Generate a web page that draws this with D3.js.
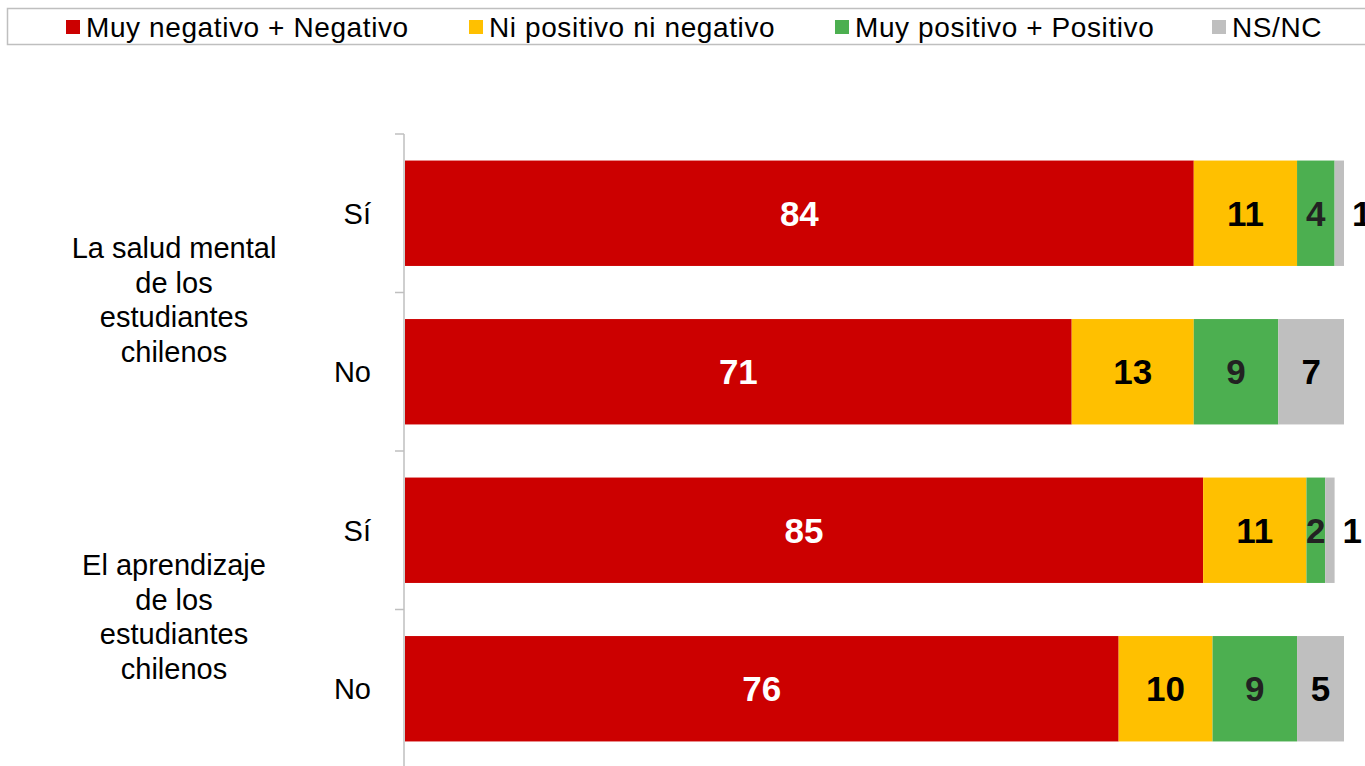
<!DOCTYPE html>
<html>
<head>
<meta charset="utf-8">
<script src="https://cdn.jsdelivr.net/npm/d3@7"></script>
<style>
  body { margin: 0; background: #fff; overflow: hidden; }
  text { font-family: "Liberation Sans", Arial, sans-serif; }
</style>
</head>
<body>
<div id="chart"></div>
<script>
// data
const seriesNames = ["Muy negativo + Negativo", "Ni positivo ni negativo", "Muy positivo + Positivo", "NS/NC"];
const seriesColors = ["#cc0000", "#ffc000", "#4caf50", "#bfbfbf"];
const labelColors = ["#fff", "#000", "#222", "#000"];
const groups = [["La salud mental", "de los", "estudiantes", "chilenos"], ["El aprendizaje", "de los", "estudiantes", "chilenos"]];
const rowLabels = ["Sí", "No", "Sí", "No"];
const negativo = [84, 71, 85, 76];
const neutral = [11, 13, 11, 10];
const positivo = [4, 9, 2, 9];
const nsnc = [1, 7, 1, 5];

const width = 1365, height = 766;
const svg = d3.select("#chart").append("svg")
  .attr("width", width)
  .attr("height", height);

// rows table
const rows = rowLabels.map((r, i) => ({ id: i, label: r, vals: [negativo[i], neutral[i], positivo[i], nsnc[i]] }));

// scales
const x = d3.scaleLinear().domain([0, 100]).range([405, 1344]);
const y = d3.scaleBand()
  .domain(rows.map(d => d.id))
  .range([134, 768])
  .paddingInner(0.335)
  .paddingOuter(0.1675);

// axis line + ticks at row boundaries
const axisG = svg.append("g");
axisG.append("line")
  .attr("x1", 404).attr("x2", 404)
  .attr("y1", 134).attr("y2", 768)
  .attr("stroke", "#bfbfbf").attr("stroke-width", 1.5);
const bounds = d3.range(rows.length + 1).map(i => 134 + i * y.step());
axisG.selectAll(".tk").data(bounds).join("line")
  .attr("x1", 395).attr("x2", 404)
  .attr("y1", d => d).attr("y2", d => d)
  .attr("stroke", "#bfbfbf").attr("stroke-width", 1.5);

// stacked bars
const stackData = rows.map(r => {
  let acc = 0;
  return r.vals.map((v, k) => { const s = { row: r.id, k, v, x0: acc, x1: acc + v }; acc += v; return s; });
}).flat();

svg.append("g").selectAll("rect").data(stackData).join("rect")
  .attr("x", d => x(d.x0))
  .attr("y", d => y(d.row))
  .attr("width", d => x(d.x1) - x(d.x0))
  .attr("height", y.bandwidth())
  .attr("fill", d => seriesColors[d.k]);

// value labels (tiny segments get their label just outside the bar end)
svg.append("g").selectAll("text").data(stackData).join("text")
  .attr("x", d => d.v <= 1 ? x(d.x1) + 8 : (x(d.x0) + x(d.x1)) / 2)
  .attr("y", d => y(d.row) + y.bandwidth() / 2)
  .attr("dy", "0.36em")
  .attr("text-anchor", d => d.v <= 1 ? "start" : "middle")
  .attr("font-size", 35)
  .attr("font-weight", "bold")
  .attr("fill", d => labelColors[d.k])
  .text(d => d.v);

// row labels
svg.append("g").selectAll("text").data(rows).join("text")
  .attr("x", 371)
  .attr("y", d => y(d.id) + y.bandwidth() / 2)
  .attr("dy", "0.36em")
  .attr("text-anchor", "end")
  .attr("font-size", 29)
  .text(d => d.label);

// group labels
groups.forEach((lines, g) => {
  const cy = 134 + (g * 2 + 1) * y.step() + 7;
  const t = svg.append("text")
    .attr("x", 174)
    .attr("text-anchor", "middle")
    .attr("font-size", 29);
  lines.forEach((ln, i) => {
    t.append("tspan")
      .attr("x", 174)
      .attr("y", cy + (i - (lines.length - 1) / 2) * 34.7)
      .attr("dy", "0.36em")
      .text(ln);
  });
});

// legend
svg.append("rect")
  .attr("x", 7.5).attr("y", 8.5)
  .attr("width", 1380).attr("height", 36)
  .attr("fill", "none").attr("stroke", "#bfbfbf").attr("stroke-width", 1.5);
const legX = [66, 469, 835, 1212];
const leg = svg.append("g").selectAll("g").data(seriesNames).join("g")
  .attr("transform", (d, i) => `translate(${legX[i]},0)`);
leg.append("rect")
  .attr("x", 0).attr("y", 20)
  .attr("width", 14).attr("height", 14)
  .attr("fill", (d, i) => seriesColors[i]);
leg.append("text")
  .attr("x", 20).attr("y", 27)
  .attr("dy", "0.36em")
  .attr("font-size", 28)
  .attr("letter-spacing", 0.6)
  .text(d => d);
</script>
</body>
</html>
